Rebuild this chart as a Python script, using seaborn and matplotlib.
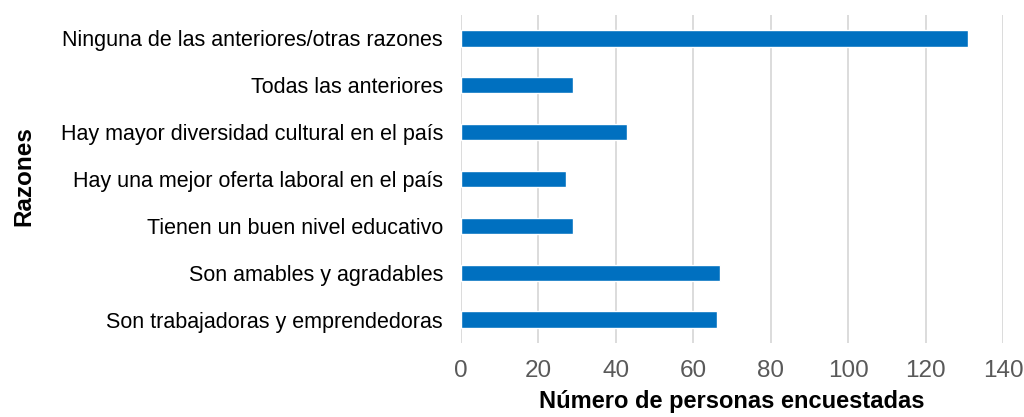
import pandas as pd
import matplotlib.pyplot as plt
import seaborn as sns

razones = [
    'Ninguna de las anteriores/otras razones',
    'Todas las anteriores',
    'Hay mayor diversidad cultural en el país',
    'Hay una mejor oferta laboral en el país',
    'Tienen un buen nivel educativo',
    'Son amables y agradables',
    'Son trabajadoras y emprendedoras',
]
personas = [131, 29, 43, 27, 29, 67, 66]

datos = pd.DataFrame({'Razones': razones, 'Personas': personas})

sns.set_theme(style='white')
plt.rcParams['font.family'] = ['Liberation Sans', 'DejaVu Sans']

fig = plt.figure(figsize=(10.24, 4.17), dpi=100)
ax = fig.add_axes([461 / 1024, 1 - 343 / 417, 542 / 1024, 328 / 417])

sns.barplot(data=datos, x='Personas', y='Razones', color='#0070C0',
            width=0.35, saturation=1, ax=ax, zorder=3)

ax.set_xlim(0, 140)
ax.set_ylim(6.5, -0.5)
ax.set_xticks(range(0, 141, 20))
ax.grid(axis='x', color='#D9D9D9', linewidth=1.3, zorder=0)
ax.grid(axis='y', visible=False)
for s in ax.spines.values():
    s.set_visible(False)

ax.tick_params(axis='x', colors='#595959', labelsize=17.5, length=0, pad=12)
ax.tick_params(axis='y', colors='black', labelsize=15.5, length=0, pad=13)

ax.set_xlabel('Número de personas encuestadas', fontsize=17, fontweight='bold',
              color='black', labelpad=6)
ax.set_ylabel('Razones', fontsize=17.5, fontweight='bold', color='black')
ax.yaxis.set_label_coords(-0.785, 0.51)

fig.savefig('out.png', dpi=100)
